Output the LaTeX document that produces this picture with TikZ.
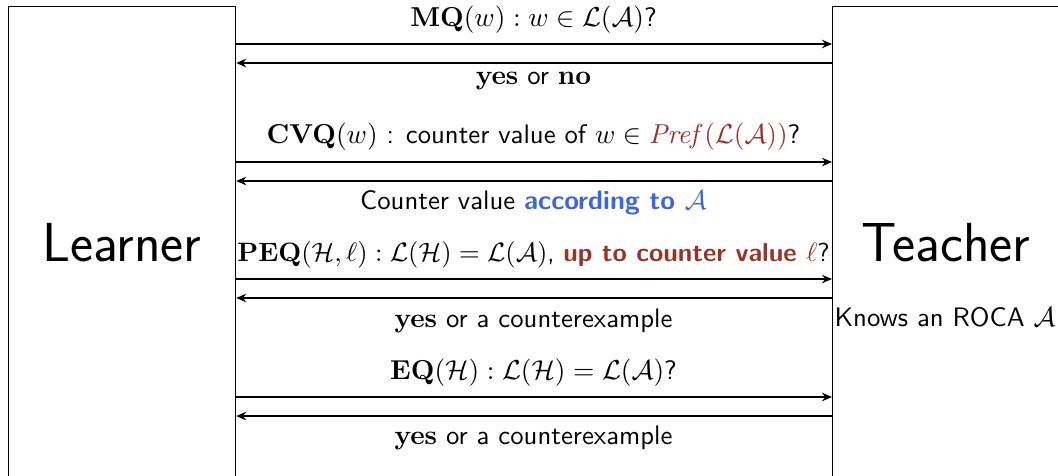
\documentclass[tikz,border=0pt]{standalone}
\usepackage{amsmath,amssymb}
\usepackage{graphicx}
\usetikzlibrary{arrows.meta}
\definecolor{alertred}{RGB}{155,50,40}
\definecolor{hlblue}{RGB}{62,100,222}
\begin{document}
\begin{tikzpicture}[x=0.4pt,y=-0.4pt,
  actor/.style={draw,line width=0.5pt,rectangle,anchor=north west,minimum width=90.8pt,minimum height=230pt,inner sep=0pt},
  msg/.style={line width=0.6pt,-{Stealth[length=4pt,width=3.4pt]}},
  lbl/.style={font=\fontsize{10.7}{13}\selectfont\sffamily,inner sep=0pt,anchor=center},
  big/.style={font=\fontsize{22}{26}\selectfont\sffamily,inner sep=0pt}]
\useasboundingbox (0,0) rectangle (1058,475);
\clip (0,0) rectangle (1058,475);
\node[actor] (L) at (8,6) {};
\node[actor] (T) at (832,6) {};
\node[big] (Ltxt) at (122,243) {Learner};
\node[big] (Ttxt) at (946,243) {Teacher};
\node[lbl] (know) at (945,317) {Knows an ROCA $\mathcal{A}$};
% MQ
\draw[msg] (L.east |- 0,44) -- (T.west |- 0,44);
\draw[msg] (T.west |- 0,63) -- (L.east |- 0,63);
\node[lbl] (mq) at (533.5,20) {$\mathbf{MQ}(w) : w \in \mathcal{L}(\mathcal{A})$?};
\node[lbl] (mqa) at (533.5,81) {$\mathbf{yes}$ or $\mathbf{no}$};
% CVQ
\draw[msg] (L.east |- 0,162) -- (T.west |- 0,162);
\draw[msg] (T.west |- 0,181) -- (L.east |- 0,181);
\node[lbl] (cvq) at (533.5,137) {$\mathbf{CVQ}(w)$ : counter value of $w \in {\color{alertred}\mathit{Pref}(\mathcal{L}(\mathcal{A}))}$?};
\node[lbl] (cvqa) at (533.5,203) {Counter value {\color{hlblue}\bfseries according to $\mathcal{A}$}};
% PEQ
\draw[msg] (L.east |- 0,279) -- (T.west |- 0,279);
\draw[msg] (T.west |- 0,298) -- (L.east |- 0,298);
\node[lbl] (peq) at (533.5,255) {\scalebox{0.972}{$\mathbf{PEQ}(\mathcal{H},\ell) : \mathcal{L}(\mathcal{H}) = \mathcal{L}(\mathcal{A})$, {\color{alertred}\bfseries up to counter value $\ell$}?}};
\node[lbl] (peqa) at (533.5,321) {$\mathbf{yes}$ or a counterexample};
% EQ
\draw[msg] (L.east |- 0,397) -- (T.west |- 0,397);
\draw[msg] (T.west |- 0,416) -- (L.east |- 0,416);
\node[lbl] (eq) at (533.5,373) {$\mathbf{EQ}(\mathcal{H}) : \mathcal{L}(\mathcal{H}) = \mathcal{L}(\mathcal{A})$?};
\node[lbl] (eqa) at (533.5,438) {$\mathbf{yes}$ or a counterexample};
\end{tikzpicture}
\end{document}
